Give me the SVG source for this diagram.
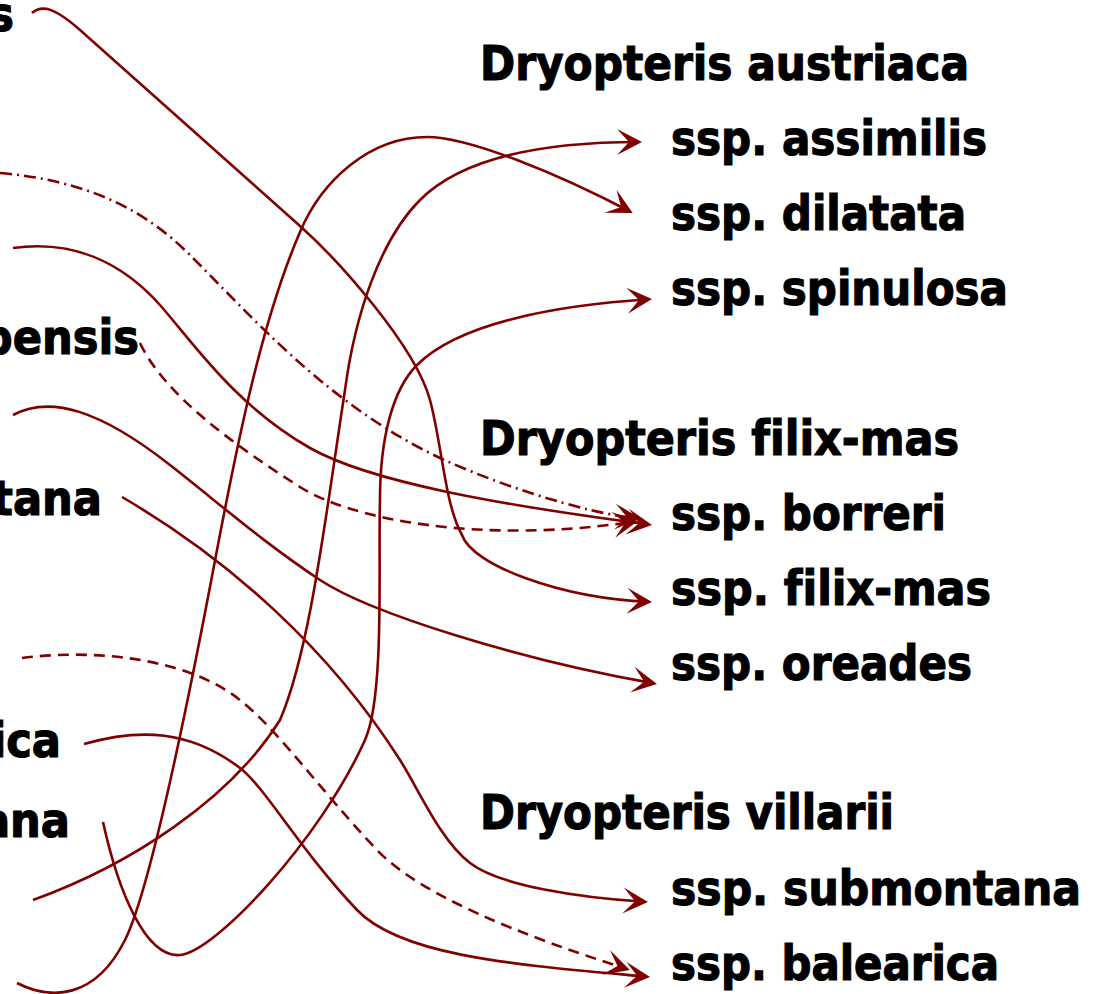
<svg xmlns="http://www.w3.org/2000/svg" width="1102" height="994" viewBox="0 0 1102 994">
<style>
.lbl{font-family:"DejaVu Sans Condensed","DejaVu Sans",sans-serif;font-weight:bold;font-size:48px;fill:#000;stroke:#000;stroke-width:1.1px;font-variant-ligatures:none}
.c{fill:none;stroke:#800000;stroke-width:2.6}
.ar{marker-end:url(#ah)}
.dash{stroke-dasharray:11 7}
.dd{stroke-dasharray:12 5 2 5}
</style>
<defs>
<marker id="ah" markerWidth="32" markerHeight="32" viewBox="-28 -16 32 32" refX="-3" refY="0" orient="auto" markerUnits="userSpaceOnUse">
<path d="M0,0 L-25,-13 L-13,0 L-25,13 Z" fill="#800000"/>
</marker>
</defs>
<rect width="1102" height="994" fill="#fff"/>
<g id="connectors">
<path class="c ar" d="M 32 13 C 42 4, 55 8, 80 30 L 300 226 C 337 259, 415 345, 430 400 C 442 445, 445 505, 462 535 C 472 565, 560 598, 649 601.8"/>
<path class="c ar dd" d="M 0 173 C 80 180, 140 205, 190 255 C 250 315, 320 395, 420 448 C 480 480, 590 515, 637 518"/>
<path class="c ar" d="M 13 248 C 70 240, 120 260, 160 305 C 195 345, 235 405, 310 448 C 370 482, 500 505, 649 524.5"/>
<path class="c ar dash" d="M 140 343 C 160 385, 210 430, 300 487 C 350 519, 480 545, 635 521.5"/>
<path class="c ar" d="M 13 415 C 50 395, 100 410, 170 465 C 220 504, 260 540, 320 580 C 370 613, 520 660, 654 683.4"/>
<path class="c ar" d="M 122 497 C 230 560, 330 650, 400 760 C 418 788, 440 840, 470 863 C 500 886, 580 898, 645 901.8"/>
<path class="c ar dash" d="M 22 658 C 100 648, 190 660, 240 700 C 280 732, 320 790, 377 850 C 420 895, 520 935, 627 969"/>
<path class="c ar" d="M 84 744 C 140 728, 190 730, 240 768 C 265 787, 300 850, 357 910 C 402 957, 520 965, 647 976.7"/>
<path class="c ar" d="M 103 822 C 118 890, 145 958, 180 955 C 215 952, 320 840, 365 740 C 385 696, 378 560, 380 500 C 380 440, 392 390, 417 365 C 460 322, 560 305, 649 299.3"/>
<path class="c ar" d="M 33 900 C 130 865, 230 800, 280 720 C 310 650, 325 520, 345 390 C 355 315, 380 240, 420 200 C 462 158, 540 142, 639 142"/>
<path class="c ar" d="M 17 983 C 50 1000, 95 1000, 125 940 C 148 894, 185 720, 217 550 C 238 440, 262 320, 300 232 C 322 180, 370 137, 427 137 C 470 137, 560 175, 630 211.5"/>
</g>
<g id="left-s"><text class="lbl" x="14" y="31" text-anchor="end">s</text></g>
<g id="left-pensis"><text class="lbl" x="139" y="354" text-anchor="end">pensis</text></g>
<g id="left-tana"><text class="lbl" x="102" y="515" text-anchor="end">tana</text></g>
<g id="left-ica"><text class="lbl" x="61" y="757" text-anchor="end">ica</text></g>
<g id="left-ana"><text class="lbl" x="70" y="837" text-anchor="end">ana</text></g>
<g id="austriaca"><text class="lbl" x="480" y="80" textLength="489" lengthAdjust="spacingAndGlyphs">Dryopteris austriaca</text></g>
<g id="assimilis"><text class="lbl" x="671" y="155" textLength="316" lengthAdjust="spacingAndGlyphs">ssp. assimilis</text></g>
<g id="dilatata"><text class="lbl" x="671" y="230" textLength="295" lengthAdjust="spacingAndGlyphs">ssp. dilatata</text></g>
<g id="spinulosa"><text class="lbl" x="671" y="305" textLength="337" lengthAdjust="spacingAndGlyphs">ssp. spinulosa</text></g>
<g id="filix-mas-header"><text class="lbl" x="480" y="455" textLength="479" lengthAdjust="spacingAndGlyphs">Dryopteris filix-mas</text></g>
<g id="borreri"><text class="lbl" x="671" y="530" textLength="275" lengthAdjust="spacingAndGlyphs">ssp. borreri</text></g>
<g id="filix-mas"><text class="lbl" x="671" y="605" textLength="320" lengthAdjust="spacingAndGlyphs">ssp. filix-mas</text></g>
<g id="oreades"><text class="lbl" x="671" y="680" textLength="301" lengthAdjust="spacingAndGlyphs">ssp. oreades</text></g>
<g id="villarii"><text class="lbl" x="480" y="829" textLength="414" lengthAdjust="spacingAndGlyphs">Dryopteris villarii</text></g>
<g id="submontana"><text class="lbl" x="671" y="905" textLength="410" lengthAdjust="spacingAndGlyphs">ssp. submontana</text></g>
<g id="balearica"><text class="lbl" x="671" y="980" textLength="328" lengthAdjust="spacingAndGlyphs">ssp. balearica</text></g>
</svg>
